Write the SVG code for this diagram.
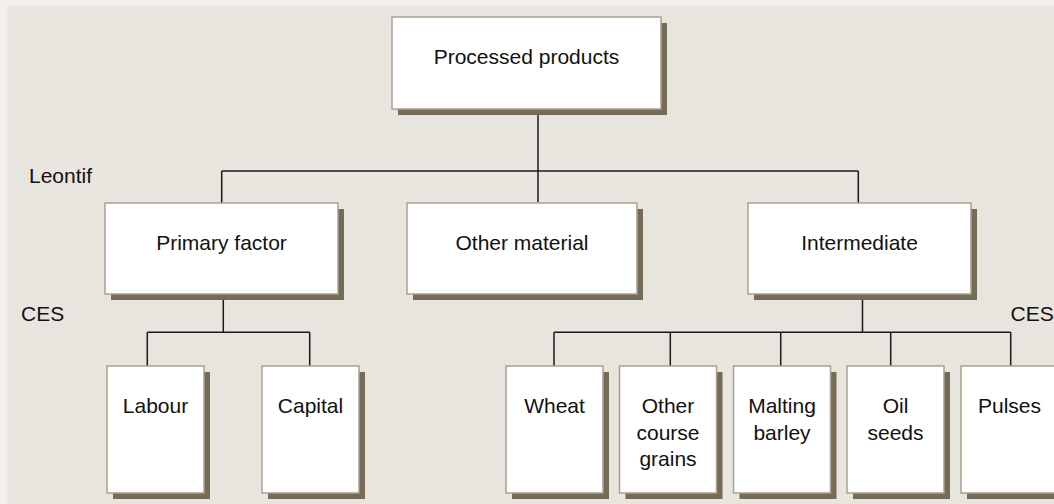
<svg xmlns="http://www.w3.org/2000/svg" width="1054" height="504" viewBox="0 0 1054 504">
  <style>
    .shadow { fill: #756b57; }
    .box { fill: #ffffff; stroke: #a8a190; stroke-width: 1.5; }
    .label { font-family: "Liberation Sans", Arial, sans-serif; font-size: 21px; fill: #111111; }
    .mid { text-anchor: middle; }
    .conn { fill: none; stroke: #1a1a1a; stroke-width: 1.5; }
  </style>

  <!-- page and slide background -->
  <rect x="0" y="0" width="1054" height="504" fill="#f2f0ec"/>
  <rect x="7.5" y="5.5" width="1046.5" height="498.5" fill="#e8e5df"/>

  <!-- level labels -->
  <text class="label" x="29" y="183">Leontif</text>
  <text class="label" x="21" y="321">CES</text>
  <text class="label" x="1010.5" y="321">CES</text>

  <!-- connectors -->
  <g id="connectors">
    <path class="conn" d="M538 109 V202"/>
    <path class="conn" d="M221.7 171 H858.3"/>
    <path class="conn" d="M221.7 171 V203 M858.3 171 V203"/>
    <path class="conn" d="M223.3 294 V332.3 M147.3 332.3 H309.7 M147.3 332.3 V366 M309.7 332.3 V366"/>
    <path class="conn" d="M862.5 294 V332.3 M554 332.3 H1010.7 M554 332.3 V366 M670.3 332.3 V366 M780.7 332.3 V366 M890.7 332.3 V366 M1010.7 332.3 V366"/>
  </g>

  <!-- top node -->
  <g id="processed-products">
    <rect class="shadow" x="398" y="23" width="269" height="92"/>
    <rect class="box" x="392" y="17" width="269" height="92"/>
    <text class="label mid" x="526.5" y="64">Processed products</text>
  </g>

  <!-- second level -->
  <g id="primary-factor">
    <rect class="shadow" x="111" y="209" width="233" height="91"/>
    <rect class="box" x="105" y="203" width="233" height="91"/>
    <text class="label mid" x="221.5" y="250">Primary factor</text>
  </g>
  <g id="other-material">
    <rect class="shadow" x="413" y="209" width="230" height="91"/>
    <rect class="box" x="407" y="203" width="230" height="91"/>
    <text class="label mid" x="522" y="250">Other material</text>
  </g>
  <g id="intermediate">
    <rect class="shadow" x="754" y="209" width="223" height="91"/>
    <rect class="box" x="748" y="203" width="223" height="91"/>
    <text class="label mid" x="859.5" y="250">Intermediate</text>
  </g>

  <!-- primary factor inputs -->
  <g id="labour">
    <rect class="shadow" x="113" y="372" width="97" height="127"/>
    <rect class="box" x="107" y="366" width="97" height="127"/>
    <text class="label mid" x="155.5" y="413">Labour</text>
  </g>
  <g id="capital">
    <rect class="shadow" x="268" y="372" width="97" height="127"/>
    <rect class="box" x="262" y="366" width="97" height="127"/>
    <text class="label mid" x="310.5" y="413">Capital</text>
  </g>

  <!-- intermediate inputs -->
  <g id="wheat">
    <rect class="shadow" x="512" y="372" width="97" height="127"/>
    <rect class="box" x="506" y="366" width="97" height="127"/>
    <text class="label mid" x="554.5" y="413">Wheat</text>
  </g>
  <g id="other-course-grains">
    <rect class="shadow" x="625.5" y="372" width="97" height="127"/>
    <rect class="box" x="619.5" y="366" width="97" height="127"/>
    <text class="label mid" x="668" y="413">Other</text>
    <text class="label mid" x="668" y="439.5">course</text>
    <text class="label mid" x="668" y="466">grains</text>
  </g>
  <g id="malting-barley">
    <rect class="shadow" x="739.5" y="372" width="97" height="127"/>
    <rect class="box" x="733.5" y="366" width="97" height="127"/>
    <text class="label mid" x="782" y="413">Malting</text>
    <text class="label mid" x="782" y="439.5">barley</text>
  </g>
  <g id="oil-seeds">
    <rect class="shadow" x="853" y="372" width="97" height="127"/>
    <rect class="box" x="847" y="366" width="97" height="127"/>
    <text class="label mid" x="895.5" y="413">Oil</text>
    <text class="label mid" x="895.5" y="439.5">seeds</text>
  </g>
  <g id="pulses">
    <rect class="shadow" x="967" y="372" width="97" height="127"/>
    <rect class="box" x="961" y="366" width="97" height="127"/>
    <text class="label mid" x="1009.5" y="413">Pulses</text>
  </g>
</svg>
